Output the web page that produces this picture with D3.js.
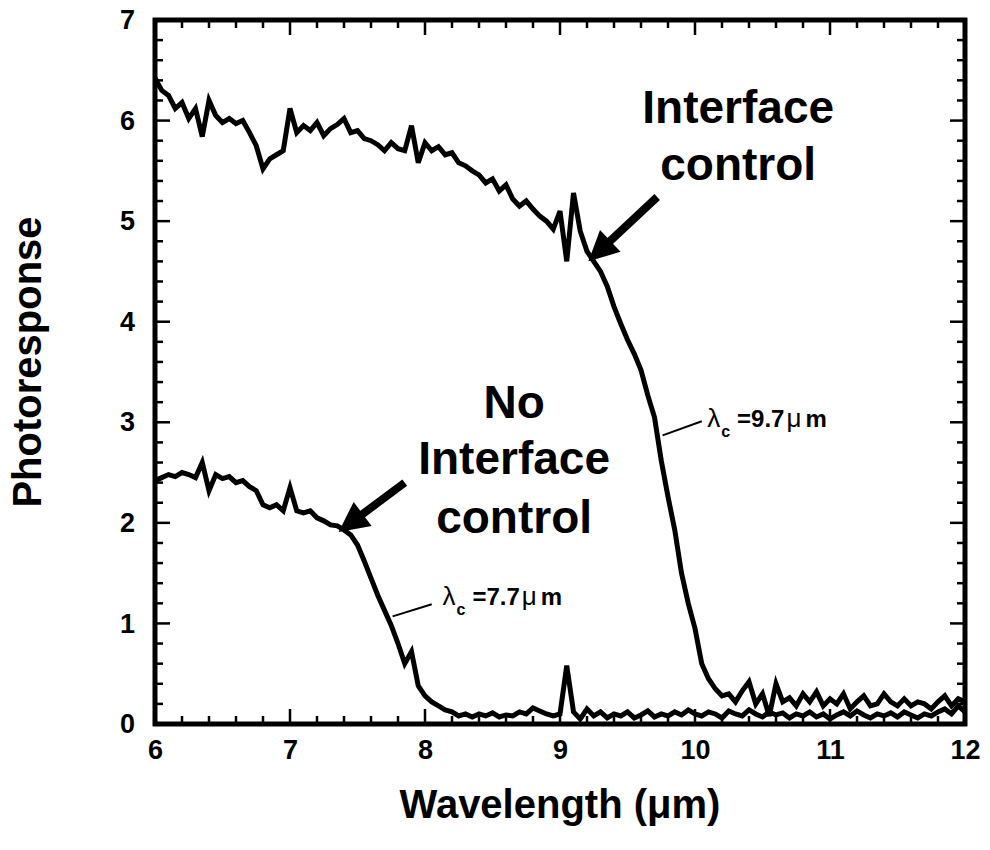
<!DOCTYPE html>
<html>
<head>
<meta charset="utf-8">
<script src="https://cdn.jsdelivr.net/npm/d3@7/dist/d3.min.js"></script>
<style>
body { margin: 0; background: #fff; }
text { font-family: Arial, "Liberation Sans", Helvetica, sans-serif; font-weight: bold; fill: #000; }
</style>
</head>
<body>
<div id="chart"></div>
<script>
// sampling grid of the spectra, 6 to 12 um in 0.05 steps
var wavelength = d3.range(0, 121).map(function(i) { return +(6 + i * 0.05).toFixed(2); });

var withControl = [
	6.42, 6.30, 6.25, 6.12, 6.18, 6.02, 6.12, 5.84, 6.20, 6.05,
	5.98, 6.02, 5.97, 6.00, 5.88, 5.75, 5.52, 5.62, 5.66, 5.70,
	6.12, 5.88, 5.95, 5.90, 5.98, 5.85, 5.92, 5.96, 6.02, 5.88,
	5.90, 5.82, 5.80, 5.76, 5.70, 5.78, 5.72, 5.70, 5.95, 5.58,
	5.78, 5.70, 5.74, 5.66, 5.68, 5.58, 5.55, 5.50, 5.46, 5.38,
	5.42, 5.30, 5.36, 5.22, 5.15, 5.20, 5.12, 5.05, 5.00, 4.92,
	5.10, 4.60, 5.28, 4.90, 4.70, 4.60, 4.50, 4.35, 4.15, 3.98,
	3.82, 3.68, 3.52, 3.27, 3.05, 2.62, 2.26, 1.93, 1.50, 1.20,
	0.95, 0.60, 0.45, 0.35, 0.28, 0.30, 0.22, 0.33, 0.42, 0.20,
	0.30, 0.08, 0.40, 0.22, 0.26, 0.18, 0.30, 0.22, 0.32, 0.18,
	0.25, 0.20, 0.30, 0.15, 0.22, 0.28, 0.18, 0.20, 0.30, 0.22,
	0.18, 0.25, 0.18, 0.22, 0.20, 0.15, 0.22, 0.28, 0.18, 0.25,
	0.22
];

var noControl = [
	2.42, 2.45, 2.48, 2.46, 2.50, 2.48, 2.45, 2.60, 2.32, 2.48,
	2.44, 2.46, 2.40, 2.42, 2.36, 2.32, 2.18, 2.15, 2.18, 2.12,
	2.35, 2.12, 2.10, 2.12, 2.05, 2.02, 1.98, 1.97, 1.93, 1.88,
	1.78, 1.62, 1.45, 1.28, 1.13, 0.98, 0.80, 0.60, 0.72, 0.38,
	0.28, 0.22, 0.18, 0.14, 0.12, 0.08, 0.10, 0.07, 0.10, 0.08,
	0.11, 0.07, 0.09, 0.08, 0.12, 0.10, 0.16, 0.13, 0.10, 0.08,
	0.10, 0.58, 0.12, 0.05, 0.15, 0.08, 0.12, 0.06, 0.10, 0.08,
	0.12, 0.06, 0.09, 0.13, 0.07, 0.10, 0.08, 0.12, 0.09, 0.14,
	0.10, 0.08, 0.12, 0.10, 0.06, 0.13, 0.10, 0.08, 0.14, 0.10,
	0.07, 0.12, 0.09, 0.11, 0.06, 0.10, 0.08, 0.12, 0.07, 0.10,
	0.05, 0.09, 0.12, 0.08, 0.13, 0.09, 0.06, 0.10, 0.08, 0.11,
	0.07, 0.12, 0.09, 0.06, 0.10, 0.08, 0.12, 0.15, 0.10, 0.18,
	0.12
];

var xTicks = [6, 7, 8, 9, 10, 11, 12];
var yTicks = [0, 1, 2, 3, 4, 5, 6, 7];

var width = 990;
var height = 850;
var margin = {left: 155, right: 25, top: 20, bottom: 126};

var svg = d3.select("#chart").append("svg")
	.attr("width", width).attr("height", height);

var xScale = d3.scaleLinear()
	.domain([6, 12]).range([margin.left, width - margin.right]);

var yScale = d3.scaleLinear()
	.domain([0, 7]).range([height - margin.bottom, margin.top]);

var x0 = xScale(6), x1 = xScale(12), y0 = yScale(0), y1 = yScale(7);

// minor and major ticks, inside on all four sides
var xMinor = d3.range(0, 31).map(function(i) { return 6 + i * 0.2; });
var yMinor = d3.range(0, 36).map(function(i) { return i * 0.2; });

function isMajor(v) { return Math.abs(v - Math.round(v)) < 1e-6; }

var ticks = svg.append("g").attr("stroke", "#000").attr("stroke-width", 2.5);
xMinor.forEach(function(v) {
	var len = isMajor(v) ? 15 : 8;
	ticks.append("line").attr("x1", xScale(v)).attr("x2", xScale(v)).attr("y1", y0).attr("y2", y0 - len);
	ticks.append("line").attr("x1", xScale(v)).attr("x2", xScale(v)).attr("y1", y1).attr("y2", y1 + len);
});
yMinor.forEach(function(v) {
	var len = isMajor(v) ? 15 : 8;
	ticks.append("line").attr("y1", yScale(v)).attr("y2", yScale(v)).attr("x1", x0).attr("x2", x0 + len);
	ticks.append("line").attr("y1", yScale(v)).attr("y2", yScale(v)).attr("x1", x1).attr("x2", x1 - len);
});

// tick labels
var xAxis = d3.axisBottom(xScale).tickValues(xTicks).tickFormat(d3.format("d")).tickSize(0).tickPadding(16);
svg.append("g").attr("transform", "translate(0," + y0 + ")").call(xAxis)
	.call(function(g) { g.select(".domain").remove(); })
	.selectAll("text").style("font-size", "27px").style("font-family", "Arial, 'Liberation Sans', sans-serif").style("font-weight", "bold");

var yAxis = d3.axisLeft(yScale).tickValues(yTicks).tickFormat(d3.format("d")).tickSize(0).tickPadding(20);
svg.append("g").attr("transform", "translate(" + x0 + ",0)").call(yAxis)
	.call(function(g) { g.select(".domain").remove(); })
	.selectAll("text").style("font-size", "27px").style("font-family", "Arial, 'Liberation Sans', sans-serif").style("font-weight", "bold");

// spectra
var line = d3.line()
	.x(function(d) { return xScale(d[0]); })
	.y(function(d) { return yScale(d[1]); });

[withControl, noControl].forEach(function(series) {
	svg.append("path")
		.datum(wavelength.map(function(w, i) { return [w, series[i]]; }))
		.attr("d", line)
		.attr("fill", "none")
		.attr("stroke", "#000")
		.attr("stroke-width", 5)
		.attr("stroke-linejoin", "miter");
});

// frame
svg.append("rect")
	.attr("x", x0).attr("y", y1)
	.attr("width", x1 - x0).attr("height", y0 - y1)
	.attr("fill", "none").attr("stroke", "#000").attr("stroke-width", 5);

// axis titles
svg.append("text")
	.attr("x", (x0 + x1) / 2).attr("y", 818)
	.attr("text-anchor", "middle").style("font-size", "40px")
	.text("Wavelength (\u03bcm)");

svg.append("text")
	.attr("transform", "translate(41,362) rotate(-90)")
	.attr("text-anchor", "middle").style("font-size", "40px")
	.text("Photoresponse");

// arrows pointing at the curves
function arrow(xa, ya, xb, yb) {
	var ax = xScale(xa), ay = yScale(ya), bx = xScale(xb), by = yScale(yb);
	var ang = Math.atan2(by - ay, bx - ax);
	var headLen = 30, headW = 15;
	var baseX = bx - headLen * Math.cos(ang), baseY = by - headLen * Math.sin(ang);
	svg.append("line")
		.attr("x1", ax).attr("y1", ay).attr("x2", baseX + 2 * Math.cos(ang)).attr("y2", baseY + 2 * Math.sin(ang))
		.attr("stroke", "#000").attr("stroke-width", 8);
	var px = -Math.sin(ang), py = Math.cos(ang);
	svg.append("polygon")
		.attr("points", [
			[bx, by],
			[baseX + headW * px, baseY + headW * py],
			[baseX - headW * px, baseY - headW * py]
		].map(function(p) { return p.join(","); }).join(" "))
		.attr("fill", "#000");
}
arrow(9.72, 5.24, 9.21, 4.60);
arrow(7.85, 2.40, 7.36, 1.91);

// curve names
function block(lines, xc, baselines) {
	lines.forEach(function(t, i) {
		svg.append("text")
			.attr("x", xScale(xc)).attr("y", yScale(baselines[i]))
			.attr("text-anchor", "middle").style("font-size", "46px")
			.text(t);
	});
}
block(["Interface", "control"], 10.32, [5.98, 5.41]);
block(["No", "Interface", "control"], 8.66, [3.04, 2.49, 1.90]);

// cutoff labels with leader lines
function cutoff(label, xs, ys, lx1, ly1, lx2, ly2) {
	svg.append("line")
		.attr("x1", xScale(lx1)).attr("y1", yScale(ly1))
		.attr("x2", xScale(lx2)).attr("y2", yScale(ly2))
		.attr("stroke", "#000").attr("stroke-width", 2);
	var t = svg.append("text").attr("x", xScale(xs)).attr("y", yScale(ys)).style("font-size", "24px");
	t.append("tspan").style("font-weight", "normal").style("font-size", "26px").text("\u03bb");
	t.append("tspan").attr("dy", 10).attr("dx", 1).style("font-size", "16px").text("c");
	t.append("tspan").attr("dy", -10).attr("dx", 7).text("=" + label);
	t.append("tspan").attr("dx", 2).style("font-weight", "normal").style("font-size", "26px").text("\u03bc");
	t.append("tspan").attr("dx", 4).text("m");
}
cutoff("9.7", 10.09, 2.95, 9.76, 2.87, 10.05, 3.01);
cutoff("7.7", 8.13, 1.18, 7.76, 1.07, 8.05, 1.19);
</script>
</body>
</html>
